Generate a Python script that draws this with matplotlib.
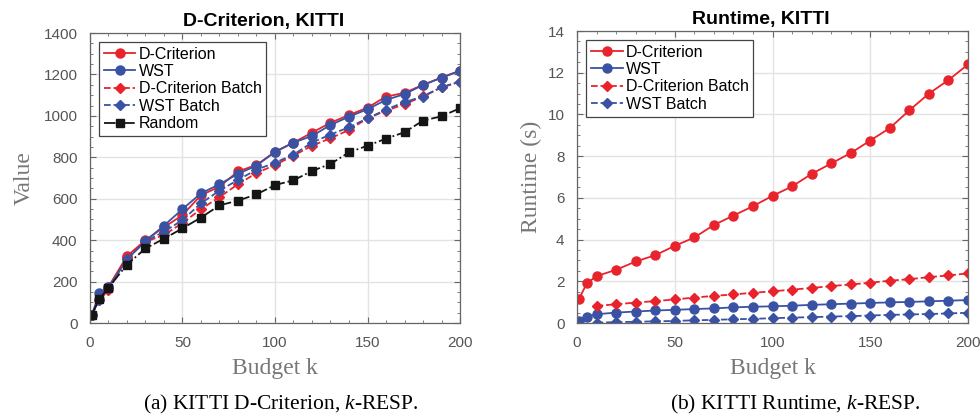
import numpy as np
import matplotlib
matplotlib.use("Agg")
import matplotlib.pyplot as plt
from matplotlib.ticker import MultipleLocator

plt.rcParams['font.family'] = ['Liberation Sans', 'DejaVu Sans']
plt.rcParams['mathtext.fontset'] = 'custom'
plt.rcParams['mathtext.rm'] = 'Liberation Serif'
plt.rcParams['mathtext.it'] = 'Liberation Serif:italic'

# budgets
budget = [1, 5, 10, 20, 30, 40, 50, 60, 70, 80, 90, 100,
          110, 120, 130, 140, 150, 160, 170, 180, 190, 200]
budget_batch = budget[2:]

# D-criterion values
dcrit_val = [40, 115, 175, 323, 400, 462, 521, 617, 658, 732, 763, 826,
             871, 919, 967, 1004, 1040, 1093, 1111, 1150, 1185, 1218]
wst_val = [40, 143, 172, 307, 396, 470, 550, 626, 670, 720, 760, 826,
           871, 903, 956, 996, 1032, 1077, 1105, 1149, 1184, 1218]
dcrit_batch_val = [40, 110, 160, 320, 392, 425, 483, 550, 608, 670, 724, 763,
                   808, 856, 892, 932, 988, 1025, 1056, 1095, 1138, 1165]
wst_batch_val = [40, 112, 168, 310, 394, 441, 497, 578, 639, 691, 740, 774,
                 813, 871, 910, 945, 988, 1030, 1067, 1093, 1138, 1165]
random_val = [40, 115, 170, 282, 360, 407, 457, 509, 568, 591, 621, 666,
              689, 734, 768, 824, 856, 890, 921, 977, 998, 1037]

# runtimes (s)
dcrit_rt = [1.15, 1.9, 2.25, 2.55, 2.95, 3.25, 3.7, 4.1, 4.7, 5.15, 5.6, 6.1,
            6.55, 7.15, 7.65, 8.15, 8.75, 9.35, 10.2, 11.0, 11.65, 12.4]
wst_rt = [0.12, 0.3, 0.42, 0.5, 0.55, 0.6, 0.63, 0.67, 0.7, 0.75, 0.78, 0.8,
          0.83, 0.87, 0.9, 0.93, 0.96, 0.99, 1.01, 1.04, 1.07, 1.1]
dcrit_batch_rt = [0.82, 0.9, 0.98, 1.05, 1.13, 1.22, 1.3, 1.37, 1.45, 1.52,
                  1.6, 1.68, 1.77, 1.85, 1.93, 2.03, 2.1, 2.2, 2.28, 2.38]
wst_batch_rt = [0.02, 0.04, 0.06, 0.08, 0.1, 0.13, 0.15, 0.18, 0.2, 0.23,
                0.26, 0.28, 0.31, 0.33, 0.36, 0.39, 0.41, 0.43, 0.46, 0.49]

RED = '#e8232b'
BLUE = '#3a52a3'
BLACK = '#151515'
TICK = '#555555'
LABEL = '#777777'

fig = plt.figure(figsize=(9.8, 4.17), dpi=100)
ax1 = fig.add_axes([0.0918, 0.2254, 0.3776, 0.6954])
ax2 = fig.add_axes([0.5888, 0.2254, 0.3990, 0.7002])


def style_axes(ax):
    ax.grid(True, which='major', color='#e3e3e3', linewidth=1.0)
    ax.set_axisbelow(True)
    for s in ax.spines.values():
        s.set_color('#666666')
        s.set_linewidth(0.9)
    ax.tick_params(which='both', direction='in', top=True, right=True,
                   colors='#666666', labelcolor=TICK, labelsize=11, pad=9)
    ax.tick_params(which='major', length=4)
    ax.tick_params(which='minor', length=2)
    ax.xaxis.set_minor_locator(MultipleLocator(10))
    ax.set_xlabel('Budget k', family='Liberation Serif', fontsize=17,
                  color=LABEL, labelpad=6)


def add_legend(ax):
    leg = ax.legend(loc='upper left', fontsize=11.5, fancybox=False,
                    framealpha=1, edgecolor='#444444', handlelength=2.0,
                    handletextpad=0.2, borderpad=0.3, labelspacing=0.15,
                    borderaxespad=0.55)
    leg.get_frame().set_linewidth(0.9)


lw = 1.3
ax1.plot(budget, dcrit_val, '-', color=RED, lw=lw, marker='o', ms=6.5,
         label='D-Criterion')
ax1.plot(budget, wst_val, '-', color=BLUE, lw=lw, marker='o', ms=6.5,
         label='WST')
ax1.plot(budget, dcrit_batch_val, '--', color=RED, lw=lw, marker='D', ms=5.5,
         label='D-Criterion Batch')
ax1.plot(budget, wst_batch_val, '--', color=BLUE, lw=lw, marker='D', ms=5.5,
         label='WST Batch')
ax1.plot(budget, random_val, '-.', color=BLACK, lw=lw, marker='s', ms=5.5,
         label='Random')
ax1.set_xlim(0, 200)
ax1.set_ylim(0, 1400)
ax1.set_xticks(np.arange(0, 201, 50))
ax1.set_yticks(np.arange(0, 1401, 200))
ax1.yaxis.set_minor_locator(MultipleLocator(50))
style_axes(ax1)
ax1.set_ylabel('Value', family='Liberation Serif', fontsize=17, color=LABEL,
               labelpad=6)
ax1.set_title('D-Criterion, KITTI', fontsize=14, fontweight='bold', pad=5,
              x=0.47)
add_legend(ax1)

ax2.plot(budget, dcrit_rt, '-', color=RED, lw=lw, marker='o', ms=6.5,
         label='D-Criterion')
ax2.plot(budget, wst_rt, '-', color=BLUE, lw=lw, marker='o', ms=6.5,
         label='WST')
ax2.plot(budget_batch, dcrit_batch_rt, '--', color=RED, lw=lw, marker='D',
         ms=5.5, label='D-Criterion Batch')
ax2.plot(budget_batch, wst_batch_rt, '--', color=BLUE, lw=lw, marker='D',
         ms=5.5, label='WST Batch')
ax2.set_xlim(0, 200)
ax2.set_ylim(0, 14)
ax2.set_xticks(np.arange(0, 201, 50))
ax2.set_yticks(np.arange(0, 15, 2))
ax2.yaxis.set_minor_locator(MultipleLocator(0.5))
style_axes(ax2)
ax2.set_ylabel('Runtime (s)', family='Liberation Serif', fontsize=17,
               color=LABEL, labelpad=4)
ax2.set_title('Runtime, KITTI', fontsize=14, fontweight='bold', pad=5,
              x=0.47)
add_legend(ax2)

# sub-figure captions
fig.text(0.287, 0.017, r'(a) KITTI D-Criterion, $\mathit{k}$-RESP.',
         family='Liberation Serif', fontsize=15.5, ha='center', va='baseline')
fig.text(0.812, 0.017, r'(b) KITTI Runtime, $\mathit{k}$-RESP.',
         family='Liberation Serif', fontsize=15.5, ha='center', va='baseline')

fig.savefig('out.png', dpi=100)
